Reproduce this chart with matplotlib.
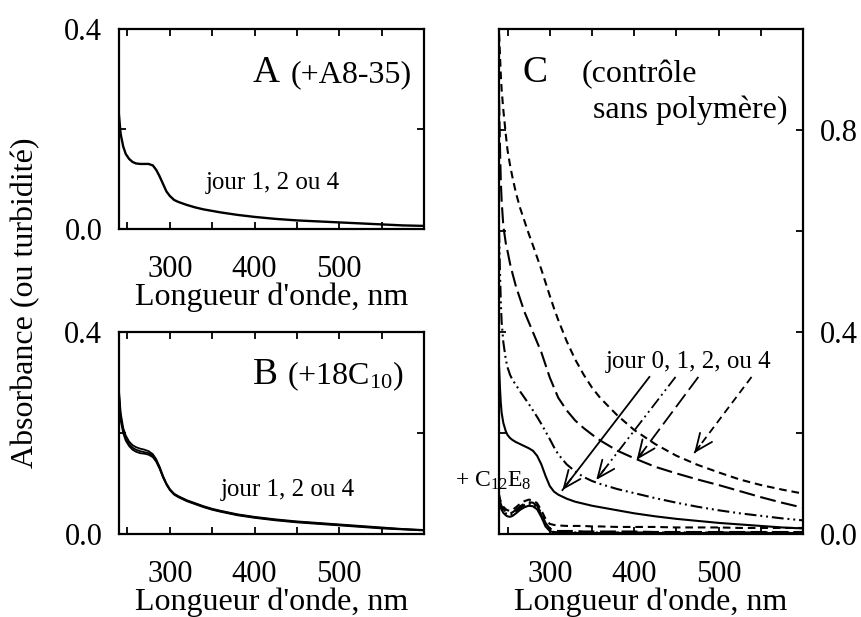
import matplotlib
matplotlib.use("Agg")
import matplotlib.pyplot as plt
import numpy as np

plt.rcParams['font.family'] = ['Liberation Serif', 'DejaVu Serif']
plt.rcParams['mathtext.fontset'] = 'custom'
plt.rcParams['mathtext.rm'] = 'Liberation Serif'
plt.rcParams['mathtext.it'] = 'Liberation Serif'
plt.rcParams['lines.scale_dashes'] = False

# ---------------- data ----------------
wl_AB = [240, 242, 245, 248, 252, 256, 260, 265, 270, 275, 280, 284, 288, 292, 296,
         300, 305, 310, 320, 330, 340, 350, 360, 380, 400, 425, 450, 475, 500, 525,
         550, 575, 600]
absA = [0.228, 0.19, 0.165, 0.15, 0.14, 0.134, 0.131, 0.13, 0.13, 0.13, 0.127, 0.118,
        0.105, 0.09, 0.075, 0.066, 0.058, 0.054, 0.048, 0.043, 0.039, 0.036, 0.033,
        0.028, 0.024, 0.02, 0.017, 0.015, 0.013, 0.011, 0.009, 0.007, 0.006]
absB_j1 = [0.285, 0.24, 0.21, 0.195, 0.183, 0.176, 0.172, 0.169, 0.167, 0.164, 0.158,
           0.148, 0.133, 0.115, 0.1, 0.089, 0.08, 0.075, 0.067, 0.061, 0.055, 0.05,
           0.046, 0.039, 0.034, 0.029, 0.025, 0.022, 0.019, 0.016, 0.013, 0.01, 0.008]
absB_j2 = [0.27, 0.225, 0.2, 0.185, 0.174, 0.167, 0.163, 0.16, 0.159, 0.157, 0.152,
           0.143, 0.129, 0.112, 0.098, 0.087, 0.078, 0.073, 0.065, 0.059, 0.053, 0.048,
           0.044, 0.037, 0.032, 0.027, 0.023, 0.02, 0.017, 0.014, 0.011, 0.009, 0.007]
absB_j4 = [0.278, 0.232, 0.204, 0.189, 0.178, 0.171, 0.167, 0.164, 0.162, 0.16, 0.155,
           0.145, 0.131, 0.113, 0.099, 0.088, 0.079, 0.074, 0.066, 0.06, 0.054, 0.049,
           0.045, 0.038, 0.033, 0.028, 0.024, 0.021, 0.018, 0.015, 0.012, 0.0095, 0.0075]

wl_C = [240, 241, 242, 243, 245, 248, 250, 253, 256, 260, 265, 270, 275, 280, 285, 290,
        295, 300, 305, 310, 320, 330, 340, 350, 360, 380, 400, 425, 450, 475, 500, 525,
        550, 575, 600]
absC_j0 = [0.33, 0.29, 0.26, 0.24, 0.22, 0.203, 0.196, 0.19, 0.186, 0.182, 0.178, 0.174,
           0.17, 0.165, 0.155, 0.138, 0.115, 0.095, 0.084, 0.078, 0.07, 0.064, 0.06,
           0.056, 0.053, 0.047, 0.041, 0.035, 0.03, 0.026, 0.022, 0.019, 0.016, 0.013,
           0.011]
absC_j1 = [0.60, 0.52, 0.46, 0.42, 0.38, 0.345, 0.33, 0.315, 0.305, 0.295, 0.282, 0.27,
           0.258, 0.245, 0.232, 0.218, 0.203, 0.188, 0.172, 0.158, 0.138, 0.124, 0.113,
           0.105, 0.099, 0.089, 0.081, 0.071, 0.062, 0.054, 0.047, 0.041, 0.036, 0.031,
           0.027]
absC_j2 = [0.86, 0.77, 0.70, 0.66, 0.61, 0.575, 0.56, 0.535, 0.515, 0.49, 0.465, 0.44,
           0.42, 0.40, 0.38, 0.36, 0.335, 0.31, 0.29, 0.27, 0.245, 0.225, 0.21, 0.197,
           0.185, 0.165, 0.15, 0.133, 0.12, 0.108, 0.097, 0.085, 0.073, 0.062, 0.052]
absC_j4 = [0.99, 0.95, 0.91, 0.88, 0.84, 0.79, 0.76, 0.73, 0.705, 0.675, 0.645, 0.62,
           0.595, 0.572, 0.548, 0.524, 0.498, 0.472, 0.447, 0.424, 0.382, 0.346, 0.316,
           0.29, 0.269, 0.235, 0.206, 0.178, 0.155, 0.137, 0.122, 0.108, 0.097, 0.088,
           0.080]
# + C12E8 spectra
absE_j0 = [0.066, 0.058, 0.052, 0.048, 0.042, 0.037, 0.035, 0.034, 0.036, 0.041, 0.048,
           0.053, 0.056, 0.055, 0.049, 0.034, 0.015, 0.006, 0.003, 0.002, 0.002, 0.002,
           0.002, 0.002, 0.002, 0.002, 0.002, 0.002, 0.002, 0.002, 0.002, 0.002, 0.002,
           0.002, 0.002]
absE_j1 = [0.07, 0.062, 0.056, 0.052, 0.046, 0.041, 0.039, 0.038, 0.04, 0.045, 0.052,
           0.057, 0.06, 0.059, 0.053, 0.038, 0.018, 0.008, 0.004, 0.003, 0.003, 0.003,
           0.003, 0.003, 0.003, 0.003, 0.003, 0.003, 0.003, 0.003, 0.003, 0.003, 0.003,
           0.003, 0.003]
absE_j2 = [0.073, 0.065, 0.059, 0.055, 0.049, 0.044, 0.042, 0.041, 0.043, 0.048, 0.055,
           0.06, 0.063, 0.062, 0.056, 0.041, 0.022, 0.011, 0.007, 0.006, 0.006, 0.006,
           0.005, 0.005, 0.005, 0.005, 0.005, 0.004, 0.004, 0.004, 0.004, 0.004, 0.004,
           0.004, 0.004]
absE_j4 = [0.078, 0.07, 0.064, 0.06, 0.054, 0.049, 0.047, 0.046, 0.048, 0.053, 0.06,
           0.065, 0.068, 0.067, 0.061, 0.047, 0.03, 0.02, 0.018, 0.017, 0.016, 0.016,
           0.016, 0.015, 0.015, 0.014, 0.014, 0.014, 0.013, 0.013, 0.013, 0.012, 0.012,
           0.012, 0.012]

# arrows in panel C (start wavelength, start abs, end wavelength, end abs)
arrow_j0 = [418, 0.311, 315, 0.087]
arrow_j1 = [449, 0.311, 355, 0.107]
arrow_j2 = [476, 0.311, 403, 0.147]
arrow_j4 = [539, 0.311, 471, 0.160]

xticks_major = [300, 400, 500]
xticks_minor = [250, 350, 450, 550]

# ---------------- styles ----------------
LS_SOLID = '-'
LS_DDOT = (0, (8.5, 2.8, 1.4, 2.8, 1.4, 2.8))
LS_LONG = (0, (11.5, 4.0))
LS_SHORT = (0, (5.5, 3.5))
LW = 1.5
FS_TICK = 22
FS_LAB = 23

fig = plt.figure(figsize=(8.62, 6.17), dpi=100)
axA = fig.add_axes([0.138, 0.629, 0.354, 0.324])
axB = fig.add_axes([0.138, 0.1345, 0.354, 0.3275])
axC = fig.add_axes([0.579, 0.1345, 0.3526, 0.8185])


def style(ax, ymax, ymajor, yminor, right_labels=False):
    ax.set_xlim(240, 600)
    ax.set_ylim(0, ymax)
    ax.set_xticks(xticks_major)
    ax.set_xticks(xticks_minor, minor=True)
    ax.set_yticks(ymajor)
    ax.set_yticks(yminor, minor=True)
    ax.set_yticklabels([f"{v:.1f}" for v in ymajor])
    ax.tick_params(which='both', direction='in', top=True, right=True, length=5,
                   width=1.3, labelsize=FS_TICK)
    ax.tick_params(axis='x', which='both', pad=19)
    ax.tick_params(axis='y', which='both', pad=12)
    if right_labels:
        ax.tick_params(axis='y', which='both', labelleft=False, labelright=True)
    for s in ax.spines.values():
        s.set_linewidth(1.6)
    ax.set_xlabel("Longueur d'onde, nm", fontsize=FS_LAB, labelpad=-1.5)


style(axA, 0.4, [0.0, 0.4], [0.2])
style(axB, 0.4, [0.0, 0.4], [0.2])
style(axC, 1.0, [0.0, 0.4, 0.8], [0.2, 0.6, 1.0], right_labels=True)

# Panel A
axA.plot(wl_AB, absA, color='black', lw=1.7, ls=LS_SOLID)
axA.text(0.439, 0.735, 'A', transform=axA.transAxes, fontsize=27, ha='left', va='baseline')
axA.text(0.564, 0.735, '(+A8-35)', transform=axA.transAxes, fontsize=23, ha='left', va='baseline')
axA.text(0.505, 0.23, 'jour 1, 2 ou 4', transform=axA.transAxes, fontsize=18, ha='center', va='center')

# Panel B
for yv in (absB_j1, absB_j2, absB_j4):
    axB.plot(wl_AB, yv, color='black', lw=1.3, ls=LS_SOLID)
axB.text(0.439, 0.743, 'B', transform=axB.transAxes, fontsize=27, ha='left', va='baseline')
axB.text(0.551, 0.743, r'(+18C$_{\mathregular{10}}$)', transform=axB.transAxes, fontsize=23,
         ha='left', va='baseline')
axB.text(0.554, 0.218, 'jour 1, 2 ou 4', transform=axB.transAxes, fontsize=18, ha='center', va='center')

# Panel C
axC.plot(wl_C, absC_j0, color='black', lw=LW, ls=LS_SOLID)
axC.plot(wl_C, absC_j1, color='black', lw=LW, ls=LS_DDOT)
axC.plot(wl_C, absC_j2, color='black', lw=LW, ls=LS_LONG)
axC.plot(wl_C, absC_j4, color='black', lw=LW, ls=LS_SHORT)
axC.plot(wl_C, absE_j0, color='black', lw=LW, ls=LS_SOLID)
axC.plot(wl_C, absE_j1, color='black', lw=LW, ls=LS_DDOT)
axC.plot(wl_C, absE_j2, color='black', lw=LW, ls=LS_LONG)
axC.plot(wl_C, absE_j4, color='black', lw=LW, ls=LS_SHORT)

for arr, ls in ((arrow_j0, LS_SOLID), (arrow_j1, LS_DDOT), (arrow_j2, LS_LONG), (arrow_j4, LS_SHORT)):
    x0, y0, x1, y1 = arr
    axC.plot([x0, x1], [y0, y1], color='black', lw=1.3, ls=ls)
    xb = x1 + (x0 - x1) * 0.1
    yb = y1 + (y0 - y1) * 0.1
    axC.annotate('', xy=(x1, y1), xytext=(xb, yb),
                 arrowprops=dict(arrowstyle='->,head_length=0.7,head_width=0.3', lw=1.3,
                                 color='black', shrinkA=0, shrinkB=0, mutation_scale=18))

axC.text(465, 0.34, 'jour 0, 1, 2, ou 4', fontsize=18, ha='center', va='center')
axC.text(0.076, 0.895, 'C', transform=axC.transAxes, fontsize=27, ha='left', va='baseline')
axC.text(0.273, 0.895, '(contrôle', transform=axC.transAxes, fontsize=23, ha='left', va='baseline')
axC.text(0.309, 0.824, 'sans polymère)', transform=axC.transAxes, fontsize=23, ha='left', va='baseline')

fig.text(0.528, 0.211, r'+ C$_{\mathregular{12}}$E$_{\mathregular{8}}$', fontsize=17, ha='left',
         va='baseline')

fig.text(0.03, 0.509, 'Absorbance (ou turbidité)', rotation=90, fontsize=FS_LAB,
         ha='center', va='center')

fig.savefig('out.png', dpi=100)
